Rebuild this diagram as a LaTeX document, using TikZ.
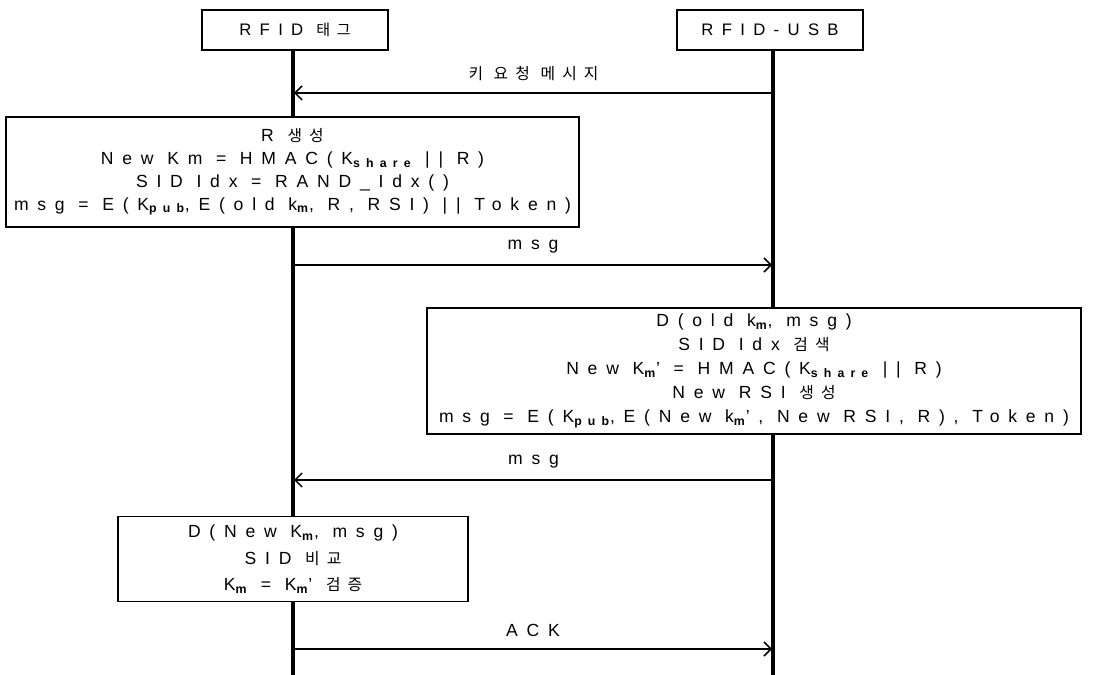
\documentclass[tikz,border=0pt]{standalone}
\usepackage{fontspec}
\setmainfont{Liberation Sans}[LetterSpace=50]
\newfontfamily\kr{Noto Sans CJK KR}[LetterSpace=45,Scale=0.9]
\usetikzlibrary{arrows.meta}
\newcommand{\lo}[1]{\textsubscript{\bfseries #1}}

\begin{document}
\begin{tikzpicture}[x=0.02cm,y=-0.02cm,
    actor/.style={draw,fill=white,line width=1.2pt,minimum width=3.72cm,minimum height=0.8cm,font=\fontsize{9.5}{11}\selectfont},
    work/.style={draw,fill=white,line width=1.1pt,align=center,font=\fontsize{10}{13}\selectfont},
    life/.style={line width=1.8pt},
    msgline/.style={line width=0.9pt,-{Straight Barb[length=4pt,width=8pt]}},
    lbl/.style={above=3pt,font=\fontsize{10}{12}\selectfont}]
  \useasboundingbox (0,0) rectangle (1109,675);

  % the two parties
  \node[actor] (tag) at (295,30) {RFID {\kr 태그}};
  \node[actor] (usb) at (770,30) {RFID-USB};
  \coordinate (tagend) at (293,675);
  \coordinate (usbend) at (773,675);
  \draw[life] (tag.south -| tagend) -- (tagend);
  \draw[life] (usb.south -| usbend) -- (usbend);

  % points on the lifelines
  \coordinate (req1) at (773,93);  \coordinate (req2) at (294,93);
  \coordinate (m1a) at (294,265);  \coordinate (m1b) at (772,265);
  \coordinate (m2a) at (773,480);  \coordinate (m2b) at (294,480);
  \coordinate (ack1) at (294,649); \coordinate (ack2) at (772,649);

  % messages
  \draw[msgline] (req1) -- node[lbl] {{\kr 키 요청 메시지}} (req2);
  \draw[msgline] (m1a) -- node[lbl] {msg} (m1b);
  \draw[msgline] (m2a) -- node[lbl] {msg} (m2b);
  \draw[msgline] (ack1) -- node[lbl] {ACK} (ack2);

  % processing on each side
  \node[work,minimum width=11.46cm,minimum height=2.2cm] (gen) at (292.5,172)
    {R {\kr 생성}\\
     New Km = HMAC(K\lo{share} || R)\\
     SID Idx = RAND\_Idx()\\
     msg = E(K\lo{pub},E(old k\lo{m}, R, RSI) || Token)};
  \node[work,minimum width=13.08cm,minimum height=2.52cm,font=\fontsize{10}{13.6}\selectfont] (check) at (754,371)
    {D(old k\lo{m}, msg)\\
     SID Idx {\kr 검색}\\
     New K\lo{m}' = HMAC(K\lo{share} || R)\\
     New RSI {\kr 생성}\\
     msg = E(K\lo{pub},E(New k\lo{m}', New RSI, R), Token)};
  \node[work,minimum width=7cm,minimum height=1.7cm,font=\fontsize{10}{15}\selectfont] (verify) at (293,559)
    {D(New K\lo{m}, msg)\\
     SID {\kr 비교}\\
     K\lo{m} = K\lo{m}' {\kr 검증}};
\end{tikzpicture}
\end{document}
